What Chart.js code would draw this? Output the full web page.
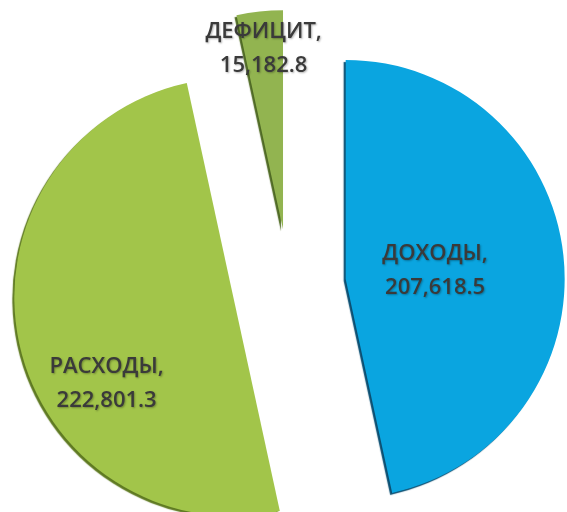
<!DOCTYPE html>
<html>
<head>
<meta charset="utf-8">
<script src="https://cdn.jsdelivr.net/npm/chart.js@4"></script>
<style>
  html, body { margin: 0; padding: 0; background: #fff; }
  #wrap { width: 567px; height: 512px; }
</style>
</head>
<body>
<div id="wrap"><canvas id="pieChart" width="567" height="512"></canvas></div>
<script>
// Budget figures
const categories = ['ДОХОДЫ', 'РАСХОДЫ', 'ДЕФИЦИТ'];
const amounts = [207618.5, 222801.3, 15182.8];
const amountLabels = ['207,618.5', '222,801.3', '15,182.8'];

const sliceColors = ['#0aa5e0', '#a2c54a', '#92b450'];
const sliceEdges = ['#0b4f72', '#5f7a22', '#4f6a24'];
// how far each slice is pulled out of the pie (px)
const explode = [57, 57, 56];

// where each label sits relative to its slice: share of radius, turn from bisector (deg)
const labelPlaces = [
    { r: 0.41, turn: 1 },
    { r: 0.70, turn: -22 },
    { r: 0.83, turn: 0 }
];

// draws every arc pulled out along its bisector, with a dark lower rim
const explodedPie = {
    id: 'explodedPie',
    beforeDatasetDraw(chart, args) {
        const ctx = chart.ctx;
        args.meta.data.forEach((arc, i) => {
            const mid = (arc.startAngle + arc.endAngle) / 2;
            ctx.save();
            ctx.translate(Math.cos(mid) * explode[i], Math.sin(mid) * explode[i]);
            ctx.shadowColor = sliceEdges[i];
            ctx.shadowBlur = 1;
            ctx.shadowOffsetX = -2;
            ctx.shadowOffsetY = 2;
            arc.draw(ctx);
            ctx.restore();
        });
        return false;
    }
};

const sliceLabels = {
    id: 'sliceLabels',
    afterDatasetsDraw(chart) {
        const ctx = chart.ctx;
        const arcs = chart.getDatasetMeta(0).data;
        ctx.save();
        ctx.font = '600 22px "Open Sans", sans-serif';
        ctx.fillStyle = '#3a3a3a';
        ctx.textAlign = 'center';
        ctx.textBaseline = 'middle';
        ctx.shadowColor = 'rgba(0,0,0,0.3)';
        ctx.shadowBlur = 2;
        ctx.shadowOffsetX = 1;
        ctx.shadowOffsetY = 1;
        arcs.forEach((arc, i) => {
            const mid = (arc.startAngle + arc.endAngle) / 2;
            const ax = arc.x + Math.cos(mid) * explode[i];
            const ay = arc.y + Math.sin(mid) * explode[i];
            const place = labelPlaces[i];
            const a = mid + place.turn * Math.PI / 180;
            const x = ax + Math.cos(a) * arc.outerRadius * place.r;
            const y = ay + Math.sin(a) * arc.outerRadius * place.r;
            ctx.fillText(categories[i] + ',', x, y - 17);
            ctx.fillText(amountLabels[i], x, y + 17);
        });
        ctx.restore();
    }
};

const pieCtx = document.getElementById('pieChart').getContext('2d');
window.pieChart = new Chart(pieCtx, {
    type: 'pie',
    data: {
        labels: categories,
        datasets: [{
            data: amounts,
            backgroundColor: sliceColors,
            borderWidth: 0,
            hoverOffset: 0,
            clip: false
        }]
    },
    options: {
        responsive: false,
        animation: false,
        radius: 219,
        layout: { padding: { left: 11, right: 0, top: 58, bottom: 0 } },
        plugins: {
            legend: { display: false },
            tooltip: { enabled: false }
        }
    },
    plugins: [explodedPie, sliceLabels]
});
</script>
</body>
</html>
